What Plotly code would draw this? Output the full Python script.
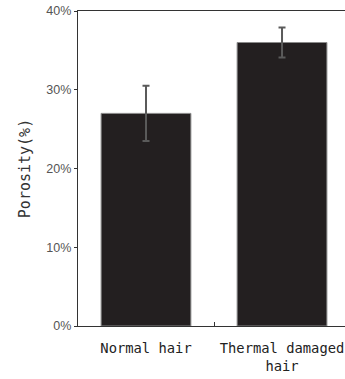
import plotly.graph_objects as go

# Porosity of hair samples (mean ± error)
categories = ["Normal hair", "Thermal damaged<br>hair"]
porosity = [27.0, 36.0]
porosity_err = [3.5, 1.9]
y_ticks = [0, 10, 20, 30, 40]
y_tick_text = ["0%", "10%", "20%", "30%", "40%"]

fig = go.Figure()
fig.add_trace(go.Bar(
    x=categories,
    y=porosity,
    width=0.66,
    marker=dict(color="#231f20", line=dict(color="#8a8a8a", width=1)),
    error_y=dict(type="data", array=porosity_err, visible=True,
                 color="#5a5a5a", thickness=2, width=3.5),
    showlegend=False,
))

mono = "DejaVu Sans Mono"
fig.update_layout(
    width=345, height=379,
    margin=dict(l=78, r=0, t=11, b=53),
    paper_bgcolor="white", plot_bgcolor="white",
    xaxis=dict(
        type="category",
        range=[-0.5, 1.463],
        showline=True, linecolor="#333333", linewidth=1.3,
        mirror=True,
        tickson="boundaries", ticks="inside", ticklen=4, tickcolor="#333333",
        tickfont=dict(family=mono, size=13.8, color="#222222"),
        ticklabelstandoff=9,
        showgrid=False, zeroline=False,
    ),
    yaxis=dict(
        range=[0, 40],
        tickvals=y_ticks, ticktext=y_tick_text,
        showline=True, linecolor="#333333", linewidth=1.3,
        ticks="outside", ticklen=3, tickcolor="#333333",
        tickfont=dict(family="Liberation Sans", size=12.5, color="#555555"),
        showgrid=False, zeroline=False,
        title=dict(text="Porosity(%)", standoff=12,
                   font=dict(family=mono, size=15, color="#333333")),
    ),
)

fig.write_html("out.html")
